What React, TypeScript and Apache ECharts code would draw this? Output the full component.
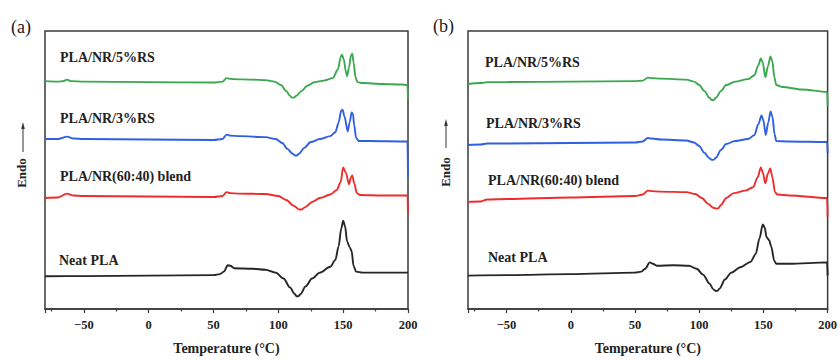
import React, { useEffect, useRef } from "react";
import * as echarts from "echarts";

type Pt = [number, number];

// Temperature (°C) vs heat flow (arbitrary units, curves vertically offset)
// ---------- Panel (a) ----------
const aRS5: Pt[] = [
  [-80, 23.2], [-70, 23.15], [-66, 23.2], [-63, 23.35], [-60, 23.2], [-50, 23.15], [0, 23.1], [50, 23.05],
  [57, 23.15], [60, 23.5], [62, 23.45], [65, 23.4], [80, 23.35], [90, 23.3], [97, 23.15], [102, 22.8],
  [106, 22.2], [109, 21.7], [110.5, 21.52], [112, 21.52], [114, 21.72], [118, 22.2], [122, 22.7], [128, 23.1], [135, 23.25],
  [142, 23.5], [146, 24.4], [148, 25.6], [149, 25.9], [150.5, 25.4], [152, 24.2], [153, 23.7], [154.5, 24.6],
  [156, 25.8], [157, 26.0], [158, 25.1], [159.5, 23.6], [161, 23.1], [165, 23.0], [180, 22.9], [195, 22.85],
  [199.6, 22.8], [200, 21.4],
];
const aRS3: Pt[] = [
  [-80, 17.3], [-70, 17.3], [-63, 17.55], [-58, 17.35], [-50, 17.3], [0, 17.25], [50, 17.2], [57, 17.3],
  [60, 17.75], [63, 17.65], [70, 17.6], [90, 17.5], [98, 17.3], [103, 16.9], [107, 16.3], [111, 15.8],
  [112.8, 15.63], [114.3, 15.63], [116, 15.82], [120, 16.4], [125, 17.0], [132, 17.3], [140, 17.6], [144, 18.0], [146.5, 19.0],
  [148.5, 20.2], [149.5, 20.3], [151, 19.6], [153.5, 18.1], [155, 19.0], [156.5, 20.0], [157.5, 19.9],
  [158.5, 18.7], [160, 17.4], [162, 17.1], [170, 17.1], [199.6, 17.05], [200, 13.4],
];
const aBlend: Pt[] = [
  [-80, 11.3], [-70, 11.35], [-63, 11.75], [-58, 11.55], [-50, 11.5], [0, 11.45], [50, 11.4], [57, 11.5],
  [60, 11.9], [63, 11.8], [70, 11.75], [90, 11.7], [100, 11.5], [106, 11.1], [112, 10.5], [116, 10.13], [118, 10.13],
  [121, 10.4], [126, 10.9], [132, 11.3], [140, 11.65], [145, 12.1], [148, 12.9], [150, 14.4], [152, 13.9],
  [154.5, 12.7], [156, 13.4], [157, 13.6], [158.5, 12.8], [160.5, 11.8], [163, 11.6], [180, 11.55],
  [199.6, 11.55], [200, 9.7],
];
const aNeat: Pt[] = [
  [-80, 3.33], [-50, 3.35], [0, 3.4], [50, 3.45], [55, 3.55], [58, 3.8], [61, 4.45], [63, 4.4], [66, 4.15],
  [80, 4.1], [90, 4.0], [98, 3.7], [104, 3.1], [109, 2.2], [112.5, 1.55], [114, 1.3], [115.5, 1.3], [117, 1.5], [121, 2.3],
  [126, 3.1], [132, 3.7], [140, 4.3], [144, 5.0], [146.5, 6.4], [148.5, 8.2], [150, 9.0], [151.5, 8.4],
  [153, 6.9], [155, 6.3], [156.5, 5.9], [158, 4.4], [160, 3.8], [165, 3.7], [200, 3.7],
];

// ---------- Panel (b) ----------
const bRS5: Pt[] = [
  [-80, 22.9], [-70, 23.0], [-65, 23.1], [-50, 23.1], [0, 23.15], [50, 23.2], [56, 23.25], [60, 23.55],
  [63, 23.5], [70, 23.45], [90, 23.35], [96, 23.15], [100, 22.8], [104, 22.2], [108, 21.5], [109.8, 21.28], [111.2, 21.28],
  [113, 21.5], [117, 22.2], [121, 22.8], [128, 23.15], [138, 23.4], [143, 23.8], [146, 24.8], [148, 25.5],
  [149.5, 25.1], [151.5, 23.6], [153.5, 24.7], [155.5, 25.7], [157, 25.2], [158.5, 23.6], [160, 22.8],
  [165, 22.6], [180, 22.35], [199.6, 22.1], [200, 20.7],
];
const bRS3: Pt[] = [
  [-80, 16.7], [-70, 16.75], [-65, 16.85], [-50, 16.85], [0, 16.9], [50, 16.95], [56, 17.05], [60, 17.4],
  [63, 17.35], [70, 17.25], [90, 17.15], [96, 16.95], [100, 16.6], [104, 15.9], [108, 15.35], [109.8, 15.18], [111.2, 15.18],
  [113, 15.4], [117, 16.2], [121, 16.8], [128, 17.1], [138, 17.3], [143, 17.7], [146, 18.8], [148.5, 19.7],
  [150, 19.2], [151.8, 17.7], [153.8, 19.0], [155.6, 20.1], [157, 19.6], [158.7, 17.8], [160, 17.1],
  [170, 17.05], [199.6, 17.0], [200, 15.9],
];
const bBlend: Pt[] = [
  [-80, 10.9], [-70, 10.95], [-65, 11.15], [-50, 11.2], [0, 11.35], [50, 11.5], [56, 11.65], [60, 12.05],
  [63, 12.0], [70, 11.95], [90, 11.9], [97, 11.7], [102, 11.3], [107, 10.7], [111, 10.3], [113.3, 10.22], [114.8, 10.24],
  [117, 10.6], [121, 11.3], [127, 11.8], [136, 12.05], [142, 12.4], [145.5, 13.4], [148, 14.4], [149.5, 13.9],
  [151.5, 12.8], [153.5, 13.8], [155.3, 14.3], [157, 13.4], [159, 11.9], [161, 11.65], [170, 11.55],
  [199.6, 11.3], [200, 9.4],
];
const bNeat: Pt[] = [
  [-80, 3.4], [-50, 3.45], [0, 3.55], [50, 3.7], [55, 3.8], [58, 4.1], [61.5, 4.75], [64, 4.6], [67, 4.4],
  [80, 4.45], [92, 4.4], [98, 4.1], [103, 3.5], [108, 2.6], [111, 2.0], [112.8, 1.83], [114.3, 1.85], [116, 2.1], [120, 3.0],
  [125, 3.7], [132, 4.25], [140, 4.8], [144, 5.6], [147, 7.2], [149.5, 8.6], [151, 8.3], [152.5, 7.3],
  [154.5, 7.0], [156, 6.4], [158.5, 4.9], [160, 4.6], [170, 4.6], [199.6, 4.75], [200, 3.4],
];

const sampleNames = ["Neat PLA", "PLA/NR(60:40) blend", "PLA/NR/3%RS", "PLA/NR/5%RS"];
const panelTags = ["(a)", "(b)"];
const panelData: Pt[][][] = [
  [aNeat, aBlend, aRS3, aRS5],
  [bNeat, bBlend, bRS3, bRS5],
];
const xAxisTitle = "Temperature (°C)";
const yAxisTitle = "Endo";

// ---------- layout & style ----------
const colors = ["#262626", "#ee2c2c", "#2f5fe2", "#3aa84f"];
const FONT = '"Liberation Serif", "Times New Roman", serif';
const gridBoxes = [
  { left: 45, top: 31, width: 363, height: 283 },
  { left: 468, top: 31, width: 363, height: 283 },
];
const labelPos = [
  [[59, 260], [60, 176], [60, 118], [60, 57]],
  [[488, 257], [488, 180], [486, 123], [485, 62]],
];
const tagPos = [[11, 27], [433, 26]];
const endoPos = [[21, 173], [445, 172]];
const arrowPos = [[23, 152, 122], [446, 148, 119]];

export default function App() {
  const ref = useRef<HTMLDivElement>(null);
  useEffect(() => {
    if (!ref.current) return;
    const chart = echarts.init(ref.current, null, { renderer: "svg" });
    const axisColor = "#3a3a3a";
    const graphics: any[] = [];
    panelTags.forEach((tag, p) => {
      graphics.push({
        type: "text",
        x: tagPos[p][0],
        y: tagPos[p][1],
        style: { text: tag, font: `18px ${FONT}`, fill: "#222", align: "left", verticalAlign: "middle" },
      });
      graphics.push({
        type: "text",
        x: endoPos[p][0],
        y: endoPos[p][1],
        rotation: Math.PI / 2,
        style: { text: yAxisTitle, font: `bold 13px ${FONT}`, fill: "#222", align: "center", verticalAlign: "middle" },
      });
      const [ax, ay1, ay2] = arrowPos[p];
      graphics.push({
        type: "line",
        shape: { x1: ax, y1: ay1, x2: ax, y2: ay2 + 5 },
        style: { stroke: "#333", lineWidth: 1 },
      });
      graphics.push({
        type: "polygon",
        shape: { points: [[ax, ay2], [ax - 1.8, ay2 + 7], [ax + 1.8, ay2 + 7]] },
        style: { fill: "#333" },
      });
      sampleNames.forEach((name, i) => {
        graphics.push({
          type: "text",
          x: labelPos[p][i][0],
          y: labelPos[p][i][1],
          style: { text: name, font: `bold 14px ${FONT}`, fill: "#222", align: "left", verticalAlign: "middle" },
        });
      });
    });

    const series: any[] = [];
    panelData.forEach((curves, p) => {
      curves.forEach((data, i) => {
        series.push({
          type: "line",
          name: `${panelTags[p]} ${sampleNames[i]}`,
          xAxisIndex: p,
          yAxisIndex: p,
          data,
          showSymbol: false,
          smooth: 0.3,
          smoothMonotone: "x",
          lineStyle: { color: colors[i], width: 1.9 },
          itemStyle: { color: colors[i] },
          z: 3,
        });
      });
    });

    chart.setOption({
      animation: false,
      backgroundColor: "#ffffff",
      grid: gridBoxes.map((g) => ({
        ...g,
        show: true,
        borderColor: axisColor,
        borderWidth: 1.5,
        backgroundColor: "transparent",
        containLabel: false,
      })),
      xAxis: gridBoxes.map((_, i) => ({
        gridIndex: i,
        type: "value",
        min: -80,
        max: 200,
        axisLine: { show: true, onZero: false, lineStyle: { color: axisColor, width: 1.5 } },
        axisTick: { show: true, inside: false, length: 4, lineStyle: { color: axisColor, width: 1.2 } },
        minorTick: { show: true, splitNumber: 2, length: 2.5, lineStyle: { color: axisColor, width: 1.2 } },
        splitLine: { show: false },
        minorSplitLine: { show: false },
        axisLabel: {
          formatter: (v: number) => (v === -80 ? "" : String(v).replace("-", "\u2212")),
          fontFamily: FONT,
          fontWeight: "bold",
          fontSize: 12.5,
          color: "#222",
          margin: 9,
        },
        name: xAxisTitle,
        nameLocation: "middle",
        nameGap: 32,
        nameTextStyle: { fontFamily: FONT, fontWeight: "bold", fontSize: 14, color: "#222" },
      })),
      yAxis: gridBoxes.map((_, i) => ({
        gridIndex: i,
        type: "value",
        min: 0,
        max: 28.3,
        show: false,
      })),
      graphic: graphics,
      series,
    });
    return () => chart.dispose();
  }, []);
  return (
    <div
      ref={ref}
      style={{ position: "fixed", left: 0, top: 0, width: 840, height: 360, background: "#fff" }}
    />
  );
}
